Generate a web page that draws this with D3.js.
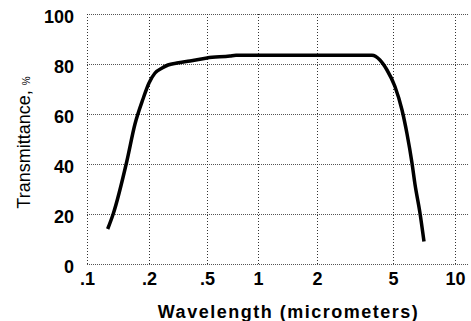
<!DOCTYPE html>
<html>
<head>
<meta charset="utf-8">
<script src="https://cdn.jsdelivr.net/npm/d3@7"></script>
<style>
  body { margin: 0; background: #fff; }
  svg { display: block; font-family: "Liberation Sans", Arial, sans-serif; }
</style>
</head>
<body>
<svg id="chart" width="471" height="321"></svg>
<script>
// Curve: wavelength (micrometers) and transmittance (%)
var wavelength = [0.126, 0.134, 0.156, 0.171, 0.187, 0.2, 0.22, 0.246, 0.27, 0.311, 0.382, 0.5,
                  0.683, 0.742, 3.88, 4.27, 4.65, 5.11, 5.53, 5.85, 6.18, 6.39, 6.76, 7.07];
var transmittance = [14, 20, 41, 56, 66, 72.4, 76.4, 78.4, 79.6, 80.4, 81.2, 82.4,
                     83.2, 83.5, 83.5, 81.6, 77.6, 71, 61.6, 52, 40.5, 32, 20.4, 9];

var xTicks = [0.1, 0.2, 0.5, 1, 2, 5, 10];
var xTickLabels = [".1", ".2", ".5", "1", "2", "5", "10"];
var yTicks = [0, 20, 40, 60, 80, 100];

// the original axis is not a clean log scale, so place each tick where it sits
var margin = {left: 87, top: 14};
var plotW = 381, plotH = 250;
var xTickPos = [0, 62, 120, 171, 230, 306, 368];

var svg = d3.select("#chart");
var g = svg.append("g").attr("transform", "translate(" + margin.left + "," + margin.top + ")");

var x = d3.scaleLinear()
    .domain(xTicks.map(Math.log10))
    .range(xTickPos);
var y = d3.scaleLinear().domain([0, 100]).range([plotH, 0]);

// dotted grid
g.selectAll("line.hgrid")
  .data(yTicks)
  .enter().append("line")
    .attr("class", "hgrid")
    .attr("x1", 0).attr("x2", plotW)
    .attr("y1", function(d) { return y(d) + 0.5; })
    .attr("y2", function(d) { return y(d) + 0.5; })
    .attr("stroke", "#555")
    .attr("stroke-dasharray", "1,1")
    .attr("shape-rendering", "crispEdges");

g.selectAll("line.vgrid")
  .data(xTicks)
  .enter().append("line")
    .attr("class", "vgrid")
    .attr("x1", function(d) { return x(Math.log10(d)) + 0.5; })
    .attr("x2", function(d) { return x(Math.log10(d)) + 0.5; })
    .attr("y1", 0).attr("y2", plotH)
    .attr("stroke", "#333")
    .attr("stroke-dasharray", "1,2")
    .attr("shape-rendering", "crispEdges");

// axes (labels only)
var yAxis = g.append("g")
    .call(d3.axisLeft(y).tickValues(yTicks).tickSize(0).tickPadding(13));
yAxis.select(".domain").remove();
yAxis.selectAll("text")
    .attr("dy", "0.46em")
    .style("font-size", "18px").style("font-weight", "bold").attr("fill", "#000");

var xAxis = g.append("g")
    .attr("transform", "translate(0," + plotH + ")")
    .call(d3.axisBottom(x)
      .tickValues(xTicks.map(Math.log10))
      .tickFormat(function(d, i) { return xTickLabels[i]; })
      .tickSize(0).tickPadding(8));
xAxis.select(".domain").remove();
xAxis.selectAll("text")
    .style("font-size", "18px").style("font-weight", "bold").attr("fill", "#000");

// the curve
var pts = wavelength.map(function(w, i) { return [w, transmittance[i]]; });
var line = d3.line()
    .x(function(d) { return x(Math.log10(d[0])); })
    .y(function(d) { return y(d[1]); })
    .curve(d3.curveMonotoneX);

g.append("path")
    .datum(pts)
    .attr("d", line)
    .attr("fill", "none")
    .attr("stroke", "#000")
    .attr("stroke-width", 3.5)
    .attr("stroke-linejoin", "round");

// titles
svg.append("text")
    .attr("x", 288.5).attr("y", 318)
    .attr("text-anchor", "middle")
    .style("font-size", "18px").style("font-weight", "bold")
    .style("letter-spacing", "1.5px")
    .text("Wavelength (micrometers)");

var yt = svg.append("text")
    .attr("transform", "translate(30,142.5) rotate(-90)")
    .attr("text-anchor", "middle")
    .style("font-size", "18px");
yt.append("tspan").text("Transmittance, ");
yt.append("tspan").style("font-size", "10px").text("%");
</script>
</body>
</html>
